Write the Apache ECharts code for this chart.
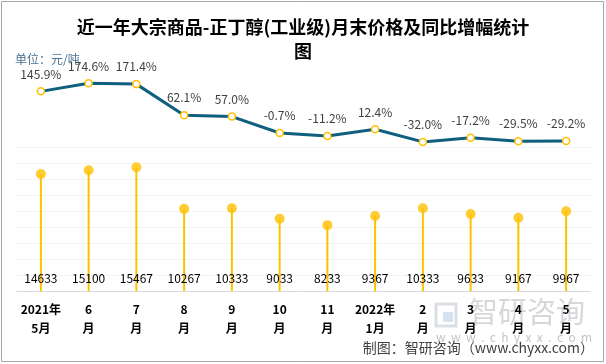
<!DOCTYPE html>
<html><head><meta charset="utf-8">
<script src="https://cdn.jsdelivr.net/npm/echarts@6/dist/echarts.min.js"></script>
<style>html,body{margin:0;padding:0;background:#fff}#c{width:606px;height:364px}</style>
</head><body><div id="c"></div>
<script>
const categories = ['2021年\n5月','6\n月','7\n月','8\n月','9\n月','10\n月','11\n月','2022年\n1月','2\n月','3\n月','4\n月','5\n月'];
const prices = [14633,15100,15467,10267,10333,9033,8233,9367,10333,9633,9167,9967];
const yoy = [145.9,174.6,171.4,62.1,57.0,-0.7,-11.2,12.4,-32.0,-17.2,-29.5,-29.2];

const FONT = '"Noto Sans CJK SC", "Noto Sans", sans-serif';
const chart = echarts.init(document.getElementById('c'), null, {renderer:'canvas'});
chart.setOption({
  animation:false,
  backgroundColor:'#fff',
  textStyle:{fontFamily:FONT},
  title:{
    text:'近一年大宗商品-正丁醇(工业级)月末价格及同比增幅统计\n图',
    left:'center', top:10,
    textStyle:{fontSize:18, fontWeight:'bold', color:'#000', lineHeight:24, fontFamily:FONT}
  },
  grid:[
    {left:17,right:16,top:76,height:71},
    {left:17,right:16,top:147,bottom:73}
  ],
  xAxis:[
    {gridIndex:0,type:'category',data:categories,show:false},
    {gridIndex:1,type:'category',data:categories,
      axisLine:{lineStyle:{color:'#d9d9d9',width:1}},
      axisTick:{show:false},
      axisLabel:{interval:0,fontWeight:'bold',color:'#000',fontSize:12,lineHeight:19,margin:9,fontFamily:FONT}}
  ],
  yAxis:[
    {gridIndex:0,type:'value',min:-50,max:200,show:false},
    {gridIndex:1,type:'value',min:0,max:18000,interval:2000,
      axisLabel:{show:false},axisLine:{show:false},axisTick:{show:false},
      splitLine:{lineStyle:{color:'#f3f3f3'}}}
  ],
  series:[
    {type:'bar',xAxisIndex:1,yAxisIndex:1,data:prices,barWidth:2,
      itemStyle:{color:'#FFC000'},
      label:{show:true,position:'insideBottom',distance:7,color:'#000',fontSize:12,fontFamily:FONT}},
    {type:'scatter',xAxisIndex:1,yAxisIndex:1,data:prices,symbolSize:10,
      itemStyle:{color:'#FFC000'},z:5},
    {type:'line',xAxisIndex:0,yAxisIndex:0,data:yoy,
      lineStyle:{color:'#0f5f7e',width:3},
      symbol:'circle',symbolSize:7,
      itemStyle:{color:'#fff',borderColor:'#FFC000',borderWidth:1.5},
      label:{show:true,position:'top',distance:7,color:'#404040',fontSize:12,fontFamily:FONT,
        formatter:p=>p.value.toFixed(1)+'%'}}
  ],
  graphic:[
    {type:'rect',shape:{x:1.5,y:1.5,width:602,height:360},style:{fill:'none',stroke:'#a6a6a6',lineWidth:1},silent:true,z:0},
    {type:'text',left:15,top:53,style:{text:'单位：元/吨',fill:'#4a7393',font:'12px '+FONT},z:0},
    {type:'rect',shape:{x:436,y:304,width:20,height:22},style:{fill:'none',stroke:'rgba(150,160,180,0.35)',lineWidth:3},z:0},
    {type:'rect',shape:{x:443,y:312,width:10,height:10},style:{fill:'rgba(120,160,210,0.3)'},z:0},
    {type:'text',left:469,top:297,style:{text:'智研咨询',fill:'rgba(150,155,165,0.4)',font:'29px '+FONT},z:0},
    {type:'text',left:436,top:331,style:{text:'w  w  w  .  c  h  y  x  x  .  c  o  m',fill:'rgba(130,135,145,0.5)',font:'12px '+FONT},z:0},
    {type:'text',right:12,top:341,style:{text:'制图：智研咨询（www.chyxx.com）',fill:'#404040',font:'14px '+FONT},z:0}
  ]
});
</script></body></html>
